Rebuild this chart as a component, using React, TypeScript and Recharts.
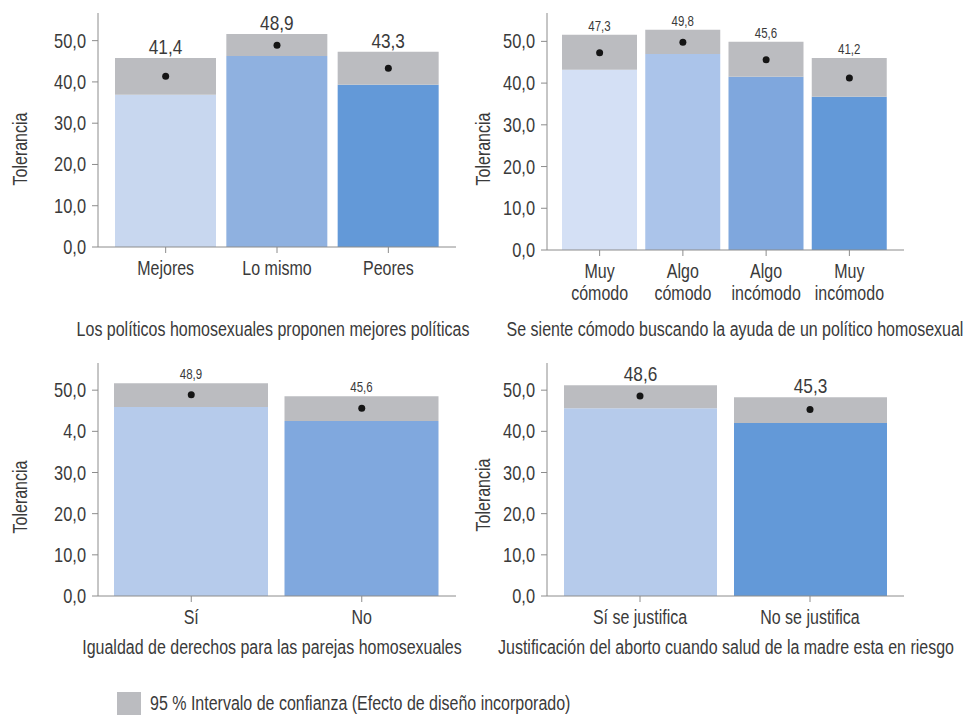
import React from "react";
import { ComposedChart, Bar, Line, XAxis, YAxis, Cell, LabelList, Label } from "recharts";

// Liberation Sans squeezed horizontally stands in for the condensed face of the original
const FONT = '"Liberation Sans", Arial, sans-serif';
const SX = 0.82;
const TEXT = "#3a3a3a";
const AXIS = "#8c8c8c";
const CI_GRAY = "#bbbcc0";
const W = 965;

const yTicks = [0, 10, 20, 30, 40, 50];
const yTickLabels = ["0,0", "10,0", "20,0", "30,0", "40,0", "50,0"];
// the reference prints "4,0" on the lower-left panel
const yTickLabelsTypo = ["0,0", "10,0", "20,0", "30,0", "4,0", "50,0"];

// Los políticos homosexuales proponen mejores políticas
const politicosCats = ["Mejores", "Lo mismo", "Peores"];
const politicosMean = [41.4, 48.9, 43.3];
const politicosLow = [36.9, 46.3, 39.3];
const politicosHigh = [45.8, 51.6, 47.3];
const politicosColors = ["#c8d7ef", "#8fb1e0", "#6399d8"];

// Se siente cómodo buscando la ayuda de un político homosexual
const ayudaCats = ["Muy\ncómodo", "Algo\ncómodo", "Algo\nincómodo", "Muy\nincómodo"];
const ayudaMean = [47.3, 49.8, 45.6, 41.2];
const ayudaLow = [43.2, 47.0, 41.5, 36.7];
const ayudaHigh = [51.6, 52.8, 49.9, 46.0];
const ayudaColors = ["#d4e0f5", "#abc4ea", "#7fa7dd", "#6399d8"];

// Igualdad de derechos para las parejas homosexuales
const igualdadCats = ["Sí", "No"];
const igualdadMean = [48.9, 45.6];
const igualdadLow = [45.9, 42.5];
const igualdadHigh = [51.7, 48.5];
const igualdadColors = ["#b6cbeb", "#80a8de"];

// Justificación del aborto
const abortoCats = ["Sí se justifica", "No se justifica"];
const abortoMean = [48.6, 45.3];
const abortoLow = [45.6, 42.0];
const abortoHigh = [51.2, 48.3];
const abortoColors = ["#b6cbeb", "#6399d8"];

const fmt = (v: number) => v.toFixed(1).replace(".", ",");

// narrow text: the glyphs get scaled on x around the anchor point
function NText({ x, y, size, anchor = "middle", rotate = 0, children }: any) {
  const rot = rotate ? ` rotate(${rotate})` : "";
  return (
    <g transform={`translate(${x},${y})${rot} scale(${SX},1)`}>
      <text x={0} y={0} textAnchor={anchor} fill={TEXT} fontSize={size} fontFamily={FONT}>
        {children}
      </text>
    </g>
  );
}

function XTick({ x, y, payload }: any) {
  const lines = String(payload.value).split("\n");
  return (
    <g>
      {lines.map((l, i) => (
        <NText key={i} x={x} y={y + 20 + i * 22} size={19.5}>
          {l}
        </NText>
      ))}
    </g>
  );
}

function YTick({ x, y, payload, labels }: any) {
  return (
    <NText x={x} y={y + 7} size={20} anchor="end">
      {labels[yTicks.indexOf(payload.value)]}
    </NText>
  );
}

interface PanelProps {
  cats: string[];
  low: number[];
  high: number[];
  mean: number[];
  colors: string[];
  tickLabels: string[];
  top: number;
  height: number;
  marginTop: number;
  marginLeft: number;
  plotRight: number;
  yAxisWidth: number;
  xAxisHeight: number;
  padLeft: number;
  padRight: number;
  barSize: number;
  yMax: number;
  valueFont: number;
  title: string;
  titleX: number;
  titleY: number;
  yLabelX: number;
  yLabelY: number;
}

function Panel(p: PanelProps) {
  const data = p.cats.map((c, i) => ({
    cat: c,
    low: p.low[i],
    ci: p.high[i] - p.low[i],
    mean: p.mean[i],
  }));

  return (
    <div style={{ position: "absolute", left: 0, top: p.top }}>
      <ComposedChart
        width={W}
        height={p.height}
        data={data}
        margin={{ top: p.marginTop, right: W - p.plotRight, left: p.marginLeft, bottom: 0 }}
      >
        <XAxis
          dataKey="cat"
          height={p.xAxisHeight}
          padding={{ left: p.padLeft, right: p.padRight }}
          stroke={AXIS}
          tickSize={6}
          tickMargin={2}
          tick={<XTick />}
          interval={0}
        >
          <Label
            content={() => (
              <NText x={p.titleX} y={p.titleY} size={19.5}>
                {p.title}
              </NText>
            )}
          />
        </XAxis>
        <YAxis
          width={p.yAxisWidth}
          domain={[0, p.yMax]}
          ticks={yTicks}
          stroke={AXIS}
          tickSize={6}
          tickMargin={6}
          tick={(props: any) => <YTick {...props} labels={p.tickLabels} />}
          allowDataOverflow
        >
          <Label
            content={() => (
              <NText x={p.yLabelX} y={p.yLabelY} size={19.5} rotate={-90}>
                Tolerancia
              </NText>
            )}
          />
        </YAxis>
        <Bar dataKey="low" stackId="a" barSize={p.barSize} isAnimationActive={false}>
          {data.map((d, i) => (
            <Cell key={`c-${i}`} fill={p.colors[i]} />
          ))}
        </Bar>
        <Bar dataKey="ci" stackId="a" barSize={p.barSize} fill={CI_GRAY} isAnimationActive={false}>
          <LabelList
            dataKey="mean"
            content={(lp: any) => {
              const vb = lp.viewBox || lp;
              return (
                <NText x={vb.x + vb.width / 2} y={vb.y - 4} size={p.valueFont}>
                  {fmt(Number(lp.value))}
                </NText>
              );
            }}
          />
        </Bar>
        <Line
          dataKey="mean"
          stroke="none"
          dot={{ r: 3.5, fill: "#151515", stroke: "none" }}
          activeDot={false}
          isAnimationActive={false}
        />
      </ComposedChart>
    </div>
  );
}

export default function App() {
  return (
    <div
      style={{
        position: "absolute",
        left: 0,
        top: 0,
        width: W,
        height: 715,
        background: "#fff",
        fontFamily: FONT,
      }}
    >
      <Panel
        cats={politicosCats}
        low={politicosLow}
        high={politicosHigh}
        mean={politicosMean}
        colors={politicosColors}
        tickLabels={yTickLabels}
        top={0}
        height={345}
        marginTop={13}
        marginLeft={0}
        plotRight={456}
        yAxisWidth={98}
        xAxisHeight={98}
        padLeft={12}
        padRight={12}
        barSize={101}
        yMax={56.7}
        valueFont={21}
        title="Los políticos homosexuales proponen mejores políticas"
        titleX={273}
        titleY={336}
        yLabelX={27}
        yLabelY={149}
      />
      <Panel
        cats={ayudaCats}
        low={ayudaLow}
        high={ayudaHigh}
        mean={ayudaMean}
        colors={ayudaColors}
        tickLabels={yTickLabels}
        top={0}
        height={345}
        marginTop={13}
        marginLeft={480}
        plotRight={904}
        yAxisWidth={67}
        xAxisHeight={95}
        padLeft={11}
        padRight={13}
        barSize={75}
        yMax={56.8}
        valueFont={14}
        title="Se siente cómodo buscando la ayuda de un político homosexual"
        titleX={735}
        titleY={336}
        yLabelX={490}
        yLabelY={149}
      />
      <Panel
        cats={igualdadCats}
        low={igualdadLow}
        high={igualdadHigh}
        mean={igualdadMean}
        colors={igualdadColors}
        tickLabels={yTickLabelsTypo}
        top={350}
        height={315}
        marginTop={13}
        marginLeft={0}
        plotRight={456}
        yAxisWidth={98}
        xAxisHeight={69}
        padLeft={8}
        padRight={9}
        barSize={154}
        yMax={56.6}
        valueFont={14}
        title="Igualdad de derechos para las parejas homosexuales"
        titleX={272}
        titleY={304}
        yLabelX={27}
        yLabelY={147}
      />
      <Panel
        cats={abortoCats}
        low={abortoLow}
        high={abortoHigh}
        mean={abortoMean}
        colors={abortoColors}
        tickLabels={yTickLabels}
        top={350}
        height={315}
        marginTop={13}
        marginLeft={480}
        plotRight={904}
        yAxisWidth={67}
        xAxisHeight={69}
        padLeft={8}
        padRight={9}
        barSize={153}
        yMax={56.6}
        valueFont={21}
        title="Justificación del aborto cuando salud de la madre esta en riesgo"
        titleX={726}
        titleY={304}
        yLabelX={490}
        yLabelY={145}
      />
      <div
        style={{
          position: "absolute",
          left: 117,
          top: 692,
          width: 24,
          height: 23,
          background: CI_GRAY,
        }}
      />
      <div
        style={{
          position: "absolute",
          left: 150,
          top: 692,
          height: 23,
          lineHeight: "23px",
          fontSize: 19.5,
          color: TEXT,
          whiteSpace: "nowrap",
          transform: `scaleX(${SX})`,
          transformOrigin: "left center",
        }}
      >
        95 % Intervalo de confianza (Efecto de diseño incorporado)
      </div>
    </div>
  );
}
